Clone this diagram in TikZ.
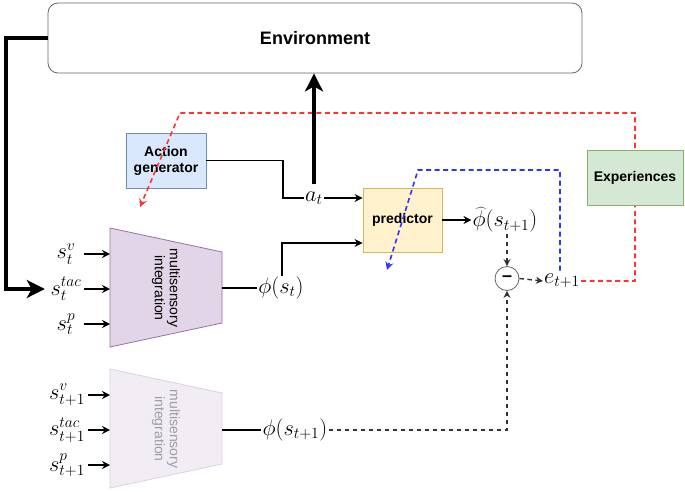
\documentclass[tikz,border=0pt]{standalone}
\usepackage{fontspec}
\setmainfont{Liberation Sans}
\usetikzlibrary{arrows.meta,calc}
\definecolor{envdraw}{HTML}{666666}
\definecolor{agfill}{HTML}{DAE8FC}
\definecolor{agdraw}{HTML}{6C8EBF}
\definecolor{prfill}{HTML}{FFF2CC}
\definecolor{prdraw}{HTML}{D6B656}
\definecolor{exfill}{HTML}{D5E8D4}
\definecolor{exdraw}{HTML}{82B366}
\definecolor{msfill}{HTML}{E1D5E7}
\definecolor{msdraw}{HTML}{9673A6}
\definecolor{msfillb}{HTML}{F2EDF5}
\definecolor{msdrawb}{HTML}{DCD0E4}
\definecolor{redd}{HTML}{FF3333}
\definecolor{blued}{HTML}{3333FF}
\definecolor{darkd}{HTML}{333333}
\newcommand{\mth}[1]{\scalebox{1.08}{$#1$}}
\begin{document}
\begin{tikzpicture}[x=1pt,y=-1pt,
  box/.style={draw, line width=0.8pt, font=\fontsize{14}{16}\selectfont\bfseries, align=center, inner sep=0pt},
  mathlbl/.style={font=\fontsize{20.74}{26}\selectfont, inner sep=1pt},
  inlbl/.style={font=\fontsize{20.74}{26}\selectfont, inner sep=0pt, minimum width=36pt},
  inlblb/.style={font=\fontsize{20.74}{26}\selectfont, inner sep=0pt, minimum width=42pt},
  plainline/.style={line width=1.4pt},
  arr/.style={line width=1.4pt, -{Stealth[length=8pt,width=8pt]}},
  bigarr/.style={line width=4pt, -{Stealth[length=18pt,width=18pt,inset=5pt]}},
  darr/.style={line width=1.4pt, darkd, dash pattern=on 4.5pt off 3.5pt, -{Stealth[length=7pt,width=7pt]}},
  redarr/.style={line width=1.6pt, redd, dash pattern=on 5pt off 3.5pt, -{Stealth[length=8pt,width=8pt]}},
  bluearr/.style={line width=1.6pt, blued, dash pattern=on 5pt off 3.5pt, -{Stealth[length=8pt,width=8pt]}},
  mslbl/.style={font=\fontsize{14}{15}\selectfont, align=center, rotate=-90, inner sep=0pt}
]
\useasboundingbox (0,0) rectangle (685,491);

% environment
\node[draw=envdraw, rounded corners=10pt, minimum width=534pt, minimum height=70pt,
      line width=0.8pt, inner sep=0pt, font=\fontsize{18}{20}\selectfont\bfseries] (env) at (315,38) {Environment};

% boxes
\node[box, fill=agfill, draw=agdraw, minimum width=80pt, minimum height=55pt] (ag) at (166,160.5) {Action\\generator};
\node[box, fill=prfill, draw=prdraw, minimum width=79pt, minimum height=64pt] (pred) at (402.5,220) {predictor};

% trapezoids
\coordinate (tl) at (110,228);
\coordinate (tr) at (222,252);
\coordinate (bl) at (110,369);
\coordinate (br) at (222,393);
\draw[fill=msfill, draw=msdraw, line width=0.8pt] (110,228) -- (222,252) -- (222,323) -- (110,347) -- cycle;
\node[mslbl] (ms1) at (166,288) {multisensory\\integration};
\draw[fill=msfillb, draw=msdrawb, line width=0.8pt] (110,369) -- (222,393) -- (222,464) -- (110,488) -- cycle;
\node[mslbl, text=black!38] (ms2) at (166,429) {multisensory\\integration};

% input labels
\node[inlbl] (sv) at (66,254) {\mth{s_t^v}};
\node[inlbl] (stac) at (66,289) {\mth{s_t^{tac}}};
\node[inlbl] (sp) at (66,324) {\mth{s_t^p}};
\node[inlblb] (svn) at (67,395) {\mth{s_{t+1}^v}};
\node[inlblb] (stacn) at (67,430) {\mth{s_{t+1}^{tac}}};
\node[inlblb] (spn) at (67,465) {\mth{s_{t+1}^p}};

\draw[arr] (sv.east) -- (sv.east -| tl);
\draw[arr] (stac.east) -- (stac.east -| tl);
\draw[arr] (sp.east) -- (sp.east -| tl);
\draw[arr] (svn.east) -- (svn.east -| bl);
\draw[arr] (stacn.east) -- (stacn.east -| bl);
\draw[arr] (spn.east) -- (spn.east -| bl);

% math labels
\node[mathlbl] (at) at (314,198) {\mth{a_t}};
\node[mathlbl] (phist) at (281,288) {\mth{\phi(s_t)}};
\node[mathlbl] (phinext) at (295,430) {\mth{\phi(s_{t+1})}};
\node[mathlbl] (phihat) at (505,220) {\mth{\widehat{\phi}(s_{t+1})}};
\node[mathlbl] (et) at (562,281) {\mth{e_{t+1}}};
\node[draw=envdraw, circle, line width=0.8pt, minimum size=24pt, inner sep=0pt,
      font=\fontsize{18}{18}\selectfont\bfseries] (minus) at (507,278.5) {--};

% thin connectors
\coordinate (k1) at (283,198);
\draw[plainline] (ag.east) -| (k1) -- (at.west);
\draw[arr] (at.east) -- (at.east -| pred.west);
\draw[plainline] (phist.west -| tr) -- (phist.west);
\draw[plainline] (phinext.west -| br) -- (phinext.west);
\coordinate (k3) at (282,243);
\draw[arr] (k3 |- phist.north) -- (k3) -- (k3 -| pred.west);
\draw[arr] (pred.east |- phihat) -- (phihat.west);
\draw[darr] (phihat.south -| minus) -- (minus.north);
\draw[darr] (minus.east) -- (et.west);
\draw[darr] (phinext.east) -| (minus.south);

% thick left arrow
\coordinate (k2) at (6,38);
\draw[bigarr] (env.west) -- (k2) |- ([xshift=-3pt]stac.west);

% dashed feedback
\coordinate (b1) at (418,170);
\coordinate (b2) at (387,270);
\draw[bluearr] ([xshift=-2pt,yshift=2pt]et.north) |- (b1) -- (b2);
\coordinate (r1) at (635,113);
\coordinate (r2) at (180,113);
\coordinate (r3) at (140,207);
\draw[redarr] (et.east) -| (r1) -- (r2) -- (r3);

% thick up arrow
\draw[bigarr] ([yshift=6pt]at.north) -- (at.north |- env.south);

% experiences
\node[box, fill=exfill, draw=exdraw, minimum width=96pt, minimum height=55pt] (exp) at (635,177.5) {Experiences};
\end{tikzpicture}
\end{document}
